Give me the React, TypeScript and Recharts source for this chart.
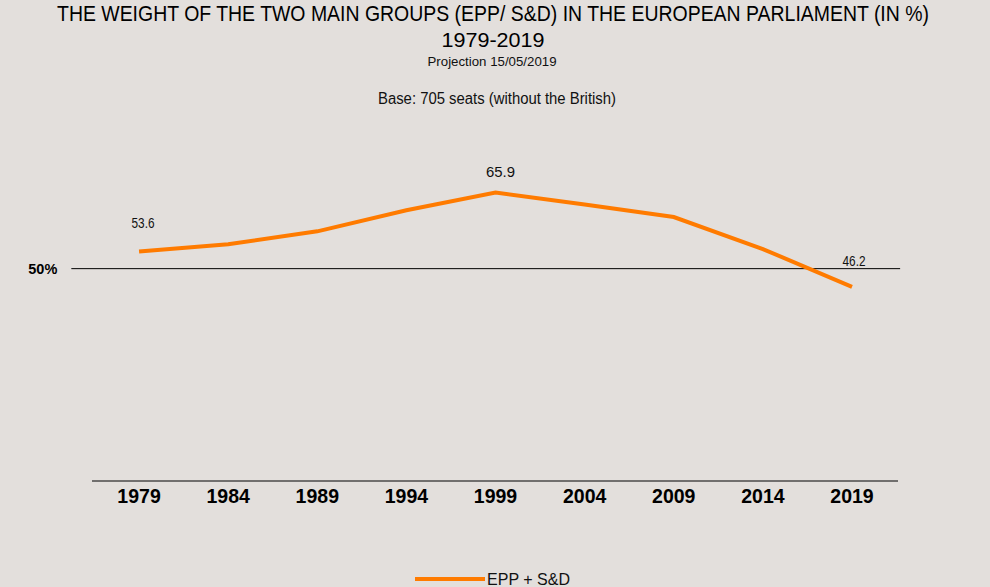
import { LineChart, Line, XAxis, YAxis, ReferenceLine, Legend, LabelList } from 'recharts';

const YEARS = [1979, 1984, 1989, 1994, 1999, 2004, 2009, 2014, 2019];
const EPP_SD = [53.6, 55.1, 57.8, 62.2, 65.9, 63.4, 60.8, 54.1, 46.2];
const LABELLED_YEARS = [1979, 1999, 2019];
const MAJORITY = 50;
const SERIES_NAME = 'EPP + S&D';
const TITLE = 'THE WEIGHT OF THE TWO MAIN GROUPS (EPP/ S&D) IN THE EUROPEAN PARLIAMENT (IN %)';
const PERIOD = '1979-2019';
const SUBTITLE = 'Projection 15/05/2019';
const NOTE = 'Base: 705 seats (without the British)';

const data = YEARS.map((year, i) => ({ year, value: EPP_SD[i] }));

const ORANGE = '#ff7b00';
const BG = '#e3dfdc';
const NARROW = '"Liberation Sans Narrow", "Liberation Sans", Arial, sans-serif';
const SANS = '"Liberation Sans", Arial, sans-serif';

// per-label tweaks (lift above point, text width)
const labelLook: Record<number, { lift: number; width: number; dx: number }> = {
  1979: { lift: 23, width: 23, dx: 4 },
  1999: { lift: 16, width: 29, dx: 5 },
  2019: { lift: 21, width: 23, dx: 2 },
};

const PointLabel = (props: any) => {
  const { x, y, index, value } = props;
  const year = YEARS[index];
  if (!LABELLED_YEARS.includes(year)) return null;
  const look = labelLook[year];
  return (
    <text
      x={x + look.dx}
      y={y - look.lift}
      textAnchor="middle"
      fontFamily={SANS}
      fontSize={15}
      fill="#111"
      textLength={look.width}
      lengthAdjust="spacingAndGlyphs"
    >
      {value.toFixed(1)}
    </text>
  );
};

const LegendBox = () => (
  <svg width={806} height={66} style={{ display: 'block', overflow: 'visible' }}>
    <line x1={323} x2={393} y1={58} y2={58} stroke={ORANGE} strokeWidth={4} />
    <text x={395} y={64} fontFamily={SANS} fontSize={17} fill="#111" textLength={83} lengthAdjust="spacingAndGlyphs">
      {SERIES_NAME}
    </text>
  </svg>
);

const App = () => {
  return (
    <div style={{ position: 'absolute', left: 0, top: 0, width: 990, height: 587, background: BG, overflow: 'hidden' }}>
      <LineChart width={990} height={587} data={data} margin={{ top: 140, right: 92, left: 92, bottom: 0 }}>
        <XAxis
          dataKey="year"
          type="number"
          domain={[1976.36, 2021.58]}
          ticks={YEARS}
          interval={0}
          allowDataOverflow
          height={40}
          tickLine={false}
          axisLine={{ stroke: '#000', strokeWidth: 1.2 }}
          tick={{ fill: '#000', fontFamily: SANS, fontWeight: 'bold', fontSize: 19.5 }}
        />
        <YAxis hide type="number" domain={[5.6, 76.9]} allowDataOverflow />
        <ReferenceLine
          segment={[{ x: 1975.2, y: MAJORITY }, { x: 2021.7, y: MAJORITY }]}
          ifOverflow="visible"
          stroke="#000"
          strokeWidth={1}
          label={{ value: `${MAJORITY}%`, position: 'left', offset: 14, fill: '#000', fontWeight: 'bold', fontSize: 14.5, fontFamily: SANS }}
        />
        <Legend verticalAlign="bottom" height={66} content={() => <LegendBox />} />
        <Line
          type="linear"
          dataKey="value"
          name={SERIES_NAME}
          stroke={ORANGE}
          strokeWidth={4}
          dot={false}
          activeDot={false}
          isAnimationActive={false}
        >
          <LabelList dataKey="value" content={<PointLabel />} />
        </Line>
      </LineChart>
      <svg width={990} height={120} style={{ position: 'absolute', left: 0, top: 0, pointerEvents: 'none' }}>
        <text x={493} y={21} textAnchor="middle" fontFamily={NARROW} fontSize={22} fill="#000" textLength={872} lengthAdjust="spacingAndGlyphs">
          {TITLE}
        </text>
        <text x={493} y={47} textAnchor="middle" fontFamily={SANS} fontSize={21} fill="#000" textLength={103} lengthAdjust="spacingAndGlyphs">
          {PERIOD}
        </text>
        <text x={492} y={66} textAnchor="middle" fontFamily={SANS} fontSize={13} fill="#111" textLength={129} lengthAdjust="spacingAndGlyphs">
          {SUBTITLE}
        </text>
        <text x={497} y={104} textAnchor="middle" fontFamily={NARROW} fontSize={16} fill="#111" textLength={238} lengthAdjust="spacingAndGlyphs">
          {NOTE}
        </text>
      </svg>
    </div>
  );
};

export default App;
